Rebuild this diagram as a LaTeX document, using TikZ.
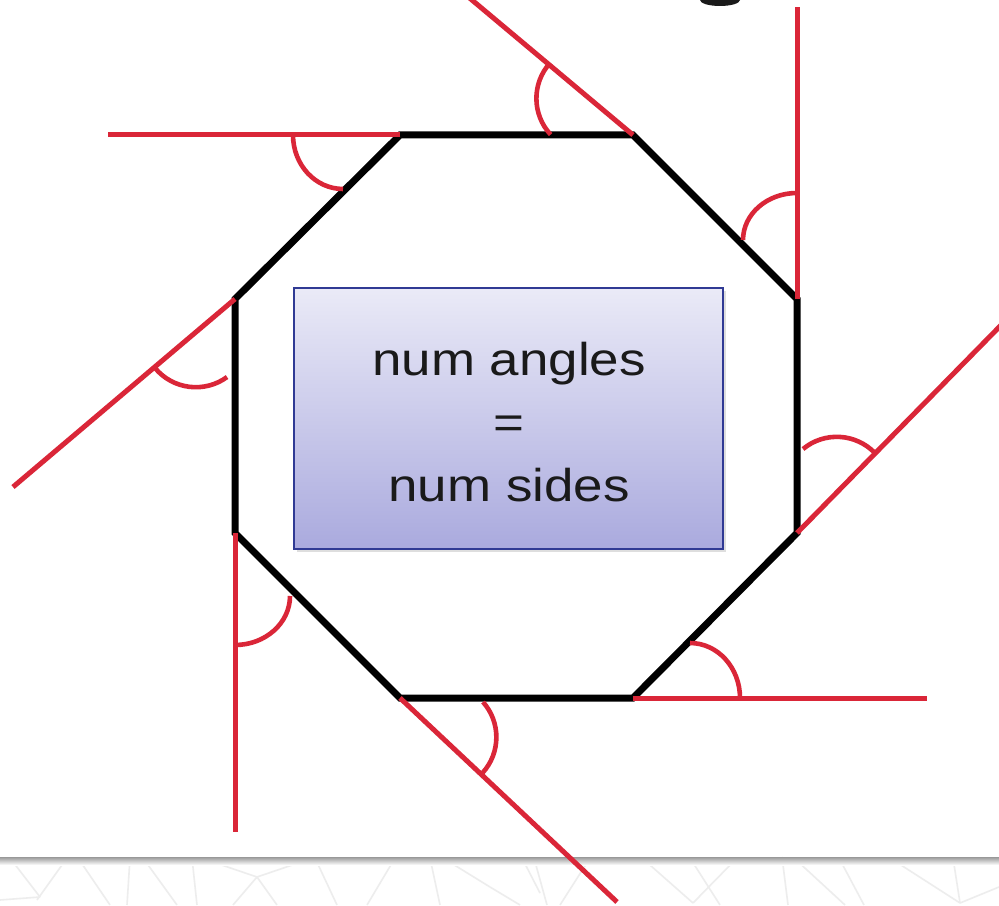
\documentclass[tikz,border=0pt]{standalone}
\usepackage{fontspec}
\setmainfont[FakeStretch=1.15]{Liberation Sans}
\definecolor{myred}{RGB}{218,38,56}
\definecolor{boxtop}{RGB}{234,234,247}
\definecolor{boxbot}{RGB}{170,170,222}
\definecolor{boxedge}{RGB}{48,58,148}
\definecolor{txt}{RGB}{26,26,26}
\begin{document}
\begin{tikzpicture}[x=0.5pt,y=0.5pt,
  redln/.style={myred,line width=2.5pt},
  arcln/.style={myred,line width=2.3pt},
  octo/.style={black,line width=3.5pt,line join=miter},
  faint/.style={black!7,line width=0.8pt},
  lbl/.style={anchor=base,text=txt,inner sep=0pt,font=\fontsize{23pt}{28pt}\selectfont}]
\clip (0,0) rectangle (999,905);
\fill[white] (0,0) rectangle (999,905);
% footer band
\foreach \a/\b/\c/\d in {10/858/40/897, 67/858/37/900, 0/900/40/897, 78/858/110/905,
  130/858/127/905, 143/858/177/905, 192/858/197/905, 207/860/257/877, 257/877/233/905,
  257/877/277/905, 257/877/307/860, 315/858/337/905, 395/858/367/905, 430/858/440/905,
  443/858/490/887, 490/887/520/905, 523/860/540/893, 534/858/547/905, 590/858/560/905,
  642/858/693/903, 737/858/693/903, 690/858/720/905, 782/857/788/905, 794/858/845/905,
  839/858/864/905, 890/858/960/903, 953/858/960/903, 960/903/999/887}
  \draw[faint] (\a,905-\b) -- (\c,905-\d);
\shade[top color=black!40,bottom color=white] (0,40) rectangle (999,48);
% clipped glyph at top
\fill[txt] (700,905) arc[start angle=180,end angle=360,x radius=10pt,y radius=3pt] -- cycle;
% octagon vertices
\coordinate (v1) at (400,770);
\coordinate (v2) at (633,770);
\coordinate (v3) at (797,606);
\coordinate (v4) at (797,372);
\coordinate (v5) at (633,207);
\coordinate (v6) at (400,207);
\coordinate (v7) at (235,372);
\coordinate (v8) at (235,606);
% red line ends
\coordinate (e1) at (108,770);
\coordinate (e2) at (460,915);
\coordinate (e3) at (797,898);
\coordinate (e4) at (1010,589);
\coordinate (e5) at (927,207);
\coordinate (e6) at (617,3);
\coordinate (e7) at (235,73);
\coordinate (e8) at (13,418);
% box
\fill[black!25,opacity=0.5] (297,353) rectangle (726,614);
\shade[top color=boxtop,bottom color=boxbot] (294,356) rectangle (723,617);
\draw[boxedge,line width=0.8pt] (294,356) rectangle (723,617);
\node[lbl] (t1) at (509,529) {num angles};
\node[lbl] (t2) at (509,466) {=};
\node[lbl] (t3) at (509,403) {num sides};
% octagon
\draw[octo] (v1) -- (v2) -- (v3) -- (v4) -- (v5) -- (v6) -- (v7) -- (v8) -- cycle;
% red extension lines
\draw[redln] (v1) -- (e1);
\draw[redln] (v2) -- (e2);
\draw[redln] (v3) -- (e3);
\draw[redln] (v4) -- (e4);
\draw[redln] (v5) -- (e5);
\draw[redln] (v6) -- (e6);
\draw[redln] (v7) -- (e7);
\draw[redln] (v8) -- (e8);
% angle arcs
\draw[arcln] (293,770) arc[start angle=180,end angle=270,x radius=25pt,y radius=27pt];
\draw[arcln] (550,842) arc[start angle=138,end angle=223,radius=26.5pt];
\draw[arcln] (797,712) arc[start angle=90,end angle=180,x radius=27pt,y radius=23.5pt];
\draw[arcln] (803,456) arc[start angle=129.6,end angle=44,radius=26.5pt];
\draw[arcln] (690,262) arc[start angle=90,end angle=0,x radius=25pt,y radius=27.5pt];
\draw[arcln] (483,203) arc[start angle=41.6,end angle=-42.3,radius=26.5pt];
\draw[arcln] (290,309) arc[start angle=0,end angle=-90,x radius=27.5pt,y radius=24.5pt];
\draw[arcln] (155,537) arc[start angle=219.6,end angle=306.1,radius=26.5pt];
\end{tikzpicture}
\end{document}
